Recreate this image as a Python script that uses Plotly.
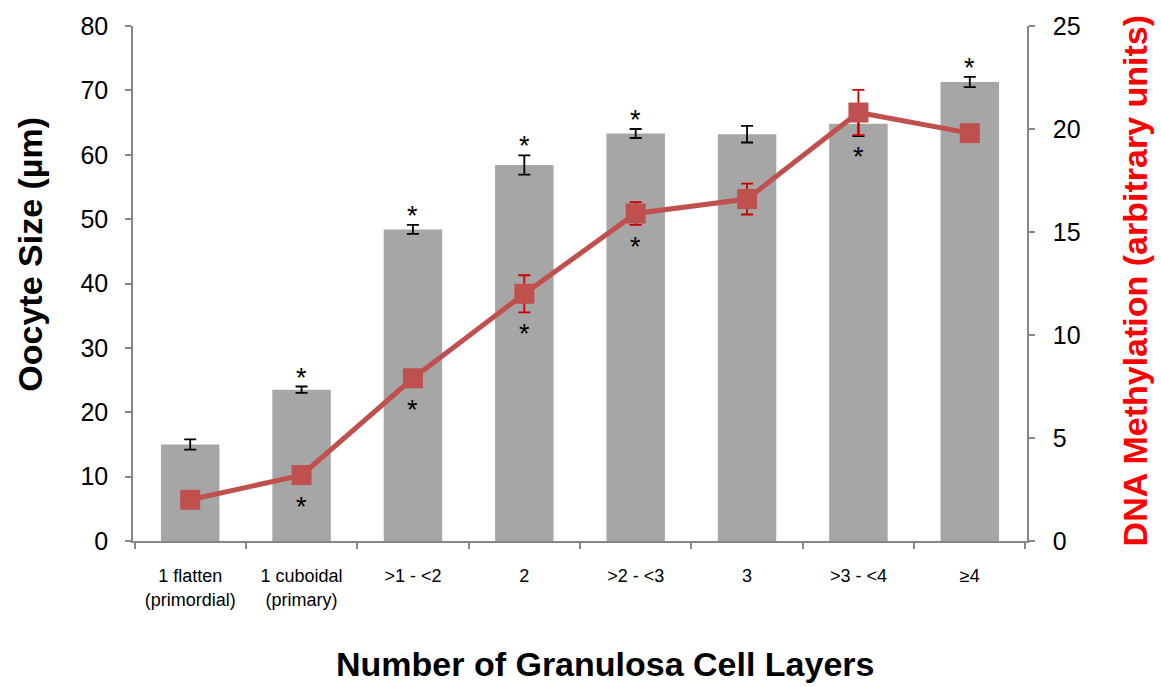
import plotly.graph_objects as go

# Follicle stages (x categories)
stages = ["1 flatten<br>(primordial)", "1 cuboidal<br>(primary)", ">1 - <2", "2",
          ">2 - <3", "3", ">3 - <4", "≥4"]

# Oocyte size (µm), mean and SEM
oocyte_size = [15.0, 23.5, 48.4, 58.4, 63.3, 63.2, 64.8, 71.3]
oocyte_err = [0.8, 0.5, 0.7, 1.5, 0.7, 1.3, 1.9, 0.8]
size_sig = [False, True, True, True, True, False, False, True]

# DNA methylation (arbitrary units), mean and SEM
methylation = [2.0, 3.2, 7.9, 12.0, 15.9, 16.6, 20.8, 19.8]
methylation_err = [0.3, 0.3, 0.4, 0.9, 0.55, 0.75, 1.1, 0.3]
meth_sig = [False, True, True, True, True, False, True, False]

BAR_GRAY = "#A6A6A6"
LINE_RED = "#C0504D"
ERR_RED = "#CC0000"
AXIS_GRAY = "#868686"
FONT = "Liberation Sans, Arial, sans-serif"

fig = go.Figure()

fig.add_trace(go.Bar(
    x=stages, y=oocyte_size,
    marker=dict(color=BAR_GRAY, line=dict(width=0)),
    error_y=dict(type="data", array=oocyte_err, color="black", thickness=1.8, width=6),
    yaxis="y", showlegend=False,
))

fig.add_trace(go.Scatter(
    x=stages, y=methylation, mode="lines+markers",
    line=dict(color=LINE_RED, width=5),
    marker=dict(symbol="square", size=20, color=LINE_RED),
    error_y=dict(type="data", array=methylation_err, color=ERR_RED, thickness=1.8, width=6),
    yaxis="y2", showlegend=False,
))

annotations = []
# Significance marks above the size bars (x given as category index)
for i, (v, e, s) in enumerate(zip(oocyte_size, oocyte_err, size_sig)):
    if s:
        annotations.append(dict(x=i, y=v + e, xref="x", yref="y", text="*",
                                showarrow=False, yanchor="middle", yshift=9,
                                font=dict(family=FONT, size=27, color="black")))
# Significance marks below the methylation points
for i, (v, e, s) in enumerate(zip(methylation, methylation_err, meth_sig)):
    if s:
        annotations.append(dict(x=i, y=v - max(e, 0.48), xref="x", yref="y2", text="*",
                                showarrow=False, yanchor="middle", yshift=-22,
                                font=dict(family=FONT, size=27, color="black")))

# Axis titles
annotations += [
    dict(text="<b>Oocyte Size (µm)</b>", xref="paper", yref="paper", x=-0.1152, y=0.556,
         textangle=-90, showarrow=False, xanchor="center", yanchor="middle",
         font=dict(family=FONT, size=34, color="black")),
    dict(text="<b>DNA Methylation (arbitrary units)</b>", xref="paper", yref="paper",
         x=1.1208, y=0.506, textangle=-90, showarrow=False, xanchor="center", yanchor="middle",
         font=dict(family=FONT, size=34, color="#FF0000")),
    dict(text="<b>Number of Granulosa Cell Layers</b>", xref="paper", yref="paper",
         x=0.528, y=-0.238, showarrow=False, xanchor="center", yanchor="middle",
         font=dict(family=FONT, size=34, color="black")),
]

fig.update_layout(
    width=1161, height=687,
    margin=dict(l=133, r=134, t=26, b=146),
    paper_bgcolor="white", plot_bgcolor="white",
    bargap=0.475,
    font=dict(family=FONT, color="black"),
    xaxis=dict(
        type="category", showline=True, linecolor=AXIS_GRAY, linewidth=1.5,
        ticks="outside", tickson="boundaries", ticklen=6, tickcolor=AXIS_GRAY, tickwidth=1.5,
        tickfont=dict(family="Liberation Sans Narrow, Arial Narrow, Liberation Sans, sans-serif",
                      size=18, color="black"),
        ticklabelstandoff=18,
        showgrid=False, zeroline=False,
    ),
    yaxis=dict(
        range=[0, 80], dtick=10, showline=True, linecolor=AXIS_GRAY, linewidth=1.5,
        ticks="outside", ticklen=6, tickcolor=AXIS_GRAY, tickwidth=1.5,
        tickfont=dict(family=FONT, size=25, color="black"), ticklabelstandoff=12,
        showgrid=False, zeroline=False,
    ),
    yaxis2=dict(
        range=[0, 25], dtick=5, overlaying="y", side="right", showline=True,
        linecolor=AXIS_GRAY, linewidth=1.5,
        ticks="outside", ticklen=6, tickcolor=AXIS_GRAY, tickwidth=1.5,
        tickfont=dict(family=FONT, size=25, color="black"), ticklabelstandoff=13,
        showgrid=False, zeroline=False,
    ),
    annotations=annotations,
)

fig.write_html("out.html")
